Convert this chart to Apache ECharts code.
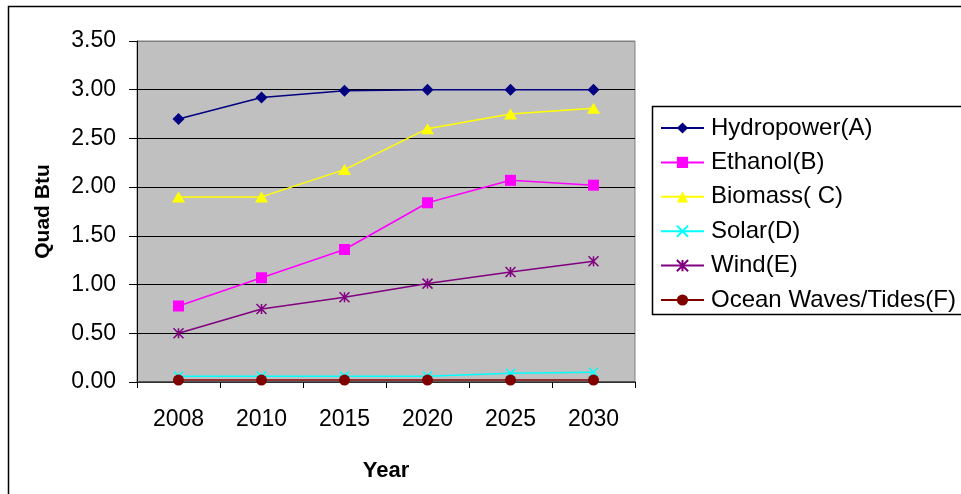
<!DOCTYPE html>
<html>
<head>
<meta charset="utf-8">
<script src="https://cdn.jsdelivr.net/npm/echarts@6/dist/echarts.min.js"></script>
<style>
  html, body { margin: 0; padding: 0; background: #fff; }
  #chart { width: 961px; height: 494px; }
</style>
</head>
<body>
<div id="chart"></div>
<script>
// Renewable energy supply projections, quadrillion Btu
const years = ['2008', '2010', '2015', '2020', '2025', '2030'];
const hydropower = [2.70, 2.92, 2.99, 3.00, 3.00, 3.00];
const ethanol    = [0.78, 1.07, 1.36, 1.84, 2.07, 2.02];
const biomass    = [1.90, 1.90, 2.18, 2.60, 2.75, 2.81];
const solar      = [0.06, 0.06, 0.06, 0.06, 0.09, 0.10];
const wind       = [0.50, 0.75, 0.87, 1.01, 1.13, 1.24];
const ocean      = [0.02, 0.02, 0.02, 0.02, 0.02, 0.02];
const yTicks = ['0.00', '0.50', '1.00', '1.50', '2.00', '2.50', '3.00', '3.50'];

const FONT = '"Liberation Sans", Arial, sans-serif';

const X_SYMBOL = 'path://M0,0L10,10M10,0L0,10';
const STAR_SYMBOL = 'path://M0,0L10,10M10,0L0,10M5,0L5,10';

function lineSeries(name, data, color, symbol, size, stroked) {
  return {
    name: name,
    type: 'line',
    data: data,
    symbol: symbol,
    symbolSize: size,
    showAllSymbol: true,
    lineStyle: { color: color, width: 1.5 },
    itemStyle: stroked
      ? { color: color, borderColor: color, borderWidth: 1.5 }
      : { color: color, borderWidth: 0 },
    emphasis: { disabled: true },
    animation: false
  };
}

const chart = echarts.init(document.getElementById('chart'));
chart.setOption({
  backgroundColor: '#ffffff',
  animation: false,
  textStyle: { fontFamily: FONT },
  grid: {
    left: 137, right: 326, top: 41, bottom: 112,
    show: true, backgroundColor: '#C0C0C0',
    borderColor: '#808080', borderWidth: 1
  },
  xAxis: {
    type: 'category',
    data: years,
    boundaryGap: true,
    name: 'Year',
    nameLocation: 'middle',
    nameGap: 78,
    nameTextStyle: { fontFamily: FONT, fontSize: 22, fontWeight: 'bold', color: '#000' },
    axisLine: { lineStyle: { color: '#404040', width: 1.5 } },
    axisTick: { show: true, alignWithLabel: false, length: 6, lineStyle: { color: '#000' } },
    axisLabel: { fontFamily: FONT, fontSize: 23, color: '#000', margin: 26 },
    splitLine: { show: false }
  },
  yAxis: {
    type: 'value',
    min: 0, max: 3.5, interval: 0.5,
    name: 'Quad Btu',
    nameLocation: 'middle',
    nameGap: 83,
    nameRotate: 90,
    nameTextStyle: { fontFamily: FONT, fontSize: 21, fontWeight: 'bold', color: '#000' },
    axisLine: { show: true, lineStyle: { color: '#000', width: 1 } },
    axisTick: { show: true, length: 8, lineStyle: { color: '#000' } },
    axisLabel: {
      fontFamily: FONT, fontSize: 23, color: '#000', margin: 21,
      formatter: function (v) { return yTicks[Math.round(v / 0.5)]; }
    },
    splitLine: {
      show: true,
      lineStyle: { color: ['#000', '#000', '#000', '#000', '#000', '#000', '#000', '#808080'], width: 1 }
    }
  },
  legend: {
    orient: 'vertical',
    left: 660,
    top: 116,
    padding: 0,
    itemWidth: 43,
    itemHeight: 14,
    itemGap: 10.4,
    textStyle: { fontFamily: FONT, fontSize: 24, color: '#000', padding: [0, 0, 0, 2] },
    data: ['Hydropower(A)', 'Ethanol(B)', 'Biomass( C)', 'Solar(D)', 'Wind(E)', 'Ocean Waves/Tides(F)']
  },
  graphic: [
    {
      type: 'rect', silent: true, z: -1,
      shape: { x: 8.5, y: 6.5, width: 980, height: 500 },
      style: { fill: null, stroke: '#000', lineWidth: 1.5 }
    },
    {
      type: 'rect', silent: true, z: -1,
      shape: { x: 652.5, y: 106.5, width: 320, height: 208 },
      style: { fill: '#fff', stroke: '#000', lineWidth: 1.5 }
    }
  ],
  series: [
    lineSeries('Hydropower(A)', hydropower, '#000080', 'diamond', 12, false),
    lineSeries('Ethanol(B)', ethanol, '#FF00FF', 'rect', 11, false),
    lineSeries('Biomass( C)', biomass, '#FFFF00', 'triangle', [13, 11], false),
    lineSeries('Solar(D)', solar, '#00FFFF', X_SYMBOL, 9, true),
    lineSeries('Wind(E)', wind, '#800080', STAR_SYMBOL, 10, true),
    lineSeries('Ocean Waves/Tides(F)', ocean, '#800000', 'circle', 11, false)
  ]
});
</script>
</body>
</html>
